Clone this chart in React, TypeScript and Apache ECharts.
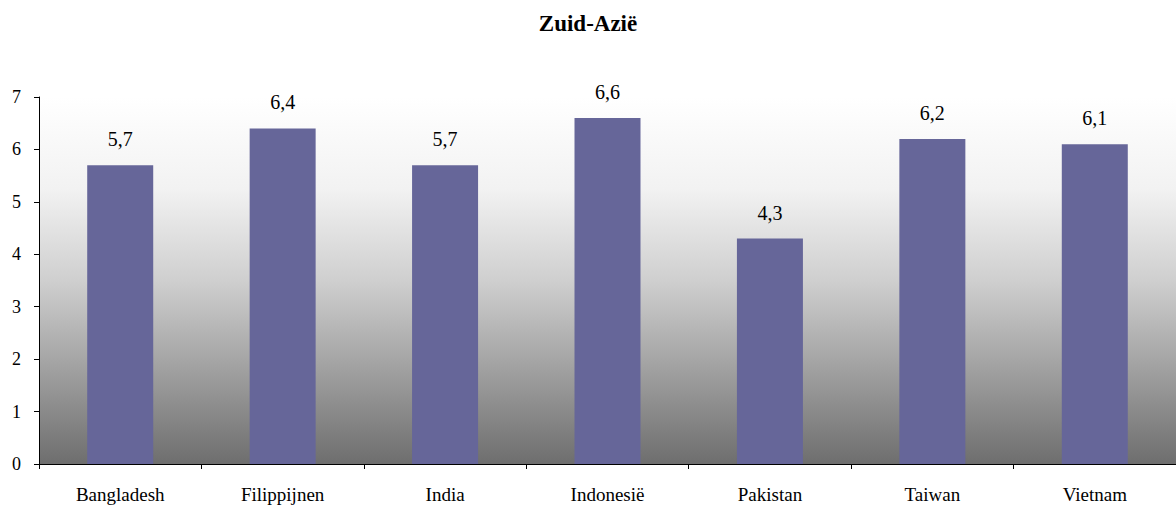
import React, { useEffect, useRef } from "react";
import * as echarts from "echarts";

const categories = ["Bangladesh", "Filippijnen", "India", "Indonesië", "Pakistan", "Taiwan", "Vietnam"];
const values = [5.7, 6.4, 5.7, 6.6, 4.3, 6.2, 6.1];
const titleText = "Zuid-Azië";

export default function App() {
  const ref = useRef<HTMLDivElement>(null);
  useEffect(() => {
    const chart = echarts.init(ref.current!, null, { renderer: "svg" });
    const serif = "'Liberation Serif', 'Times New Roman', serif";
    chart.setOption({
      animation: false,
      backgroundColor: "#ffffff",
      title: {
        text: titleText,
        left: "center",
        top: 7,
        textStyle: { fontFamily: serif, fontSize: 23, fontWeight: "bold", color: "#000" },
      },
      grid: {
        left: 39,
        right: -2,
        top: 97,
        bottom: 50,
        show: true,
        borderWidth: 0,
        backgroundColor: {
          type: "linear",
          x: 0, y: 0, x2: 0, y2: 1,
          colorStops: [
            { offset: 0, color: "#ffffff" },
            { offset: 0.25, color: "#f2f2f2" },
            { offset: 0.5, color: "#cfcfcf" },
            { offset: 0.75, color: "#9f9f9f" },
            { offset: 1, color: "#6e6e6e" },
          ],
        },
      },
      xAxis: {
        type: "category",
        data: categories,
        axisLine: { lineStyle: { color: "#000", width: 1 } },
        axisTick: { show: true, length: 5, alignWithLabel: false, lineStyle: { color: "#000" } },
        axisLabel: { fontFamily: serif, fontSize: 19, color: "#000", margin: 21 },
        splitLine: { show: false },
      },
      yAxis: {
        type: "value",
        min: 0,
        max: 7,
        interval: 1,
        axisLine: { show: true, lineStyle: { color: "#000", width: 1 } },
        axisTick: { show: true, length: 5, lineStyle: { color: "#000" } },
        axisLabel: { fontFamily: serif, fontSize: 18, color: "#000", margin: 18 },
        splitLine: { show: false },
      },
      series: [
        {
          type: "bar",
          data: values,
          barWidth: 66,
          itemStyle: { color: "#666699" },
          label: {
            show: true,
            position: "top",
            distance: 16,
            fontFamily: serif,
            fontSize: 20,
            color: "#000",
            formatter: (p: any) => String(p.value).replace(".", ","),
          },
        },
      ],
    });
    return () => chart.dispose();
  }, []);
  return (
    <div
      ref={ref}
      style={{ position: "absolute", left: 0, top: 0, width: 1176, height: 514 }}
    />
  );
}
